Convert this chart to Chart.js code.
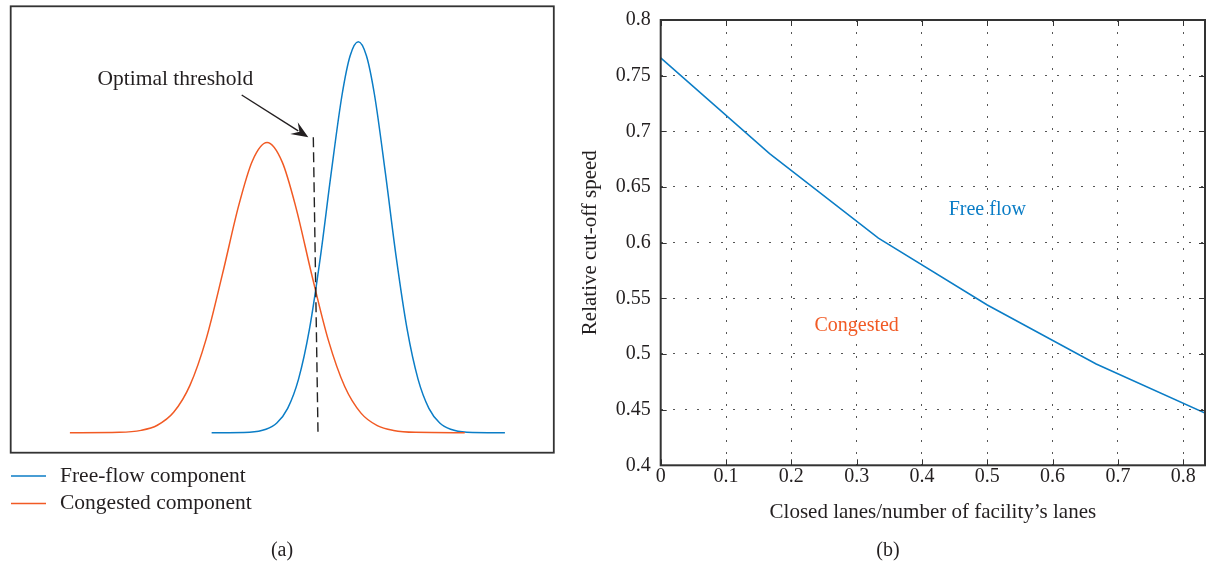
<!DOCTYPE html>
<html><head><meta charset="utf-8">
<script src="https://cdn.jsdelivr.net/npm/chart.js@4.4.0/dist/chart.umd.min.js"></script>
<style>
html,body{margin:0;padding:0;background:#fff;width:1208px;height:565px;overflow:hidden;}
#chartA{position:absolute;left:0;top:0;}
#chartB{position:absolute;left:580px;top:0;}
</style></head><body>
<canvas id="chartA" width="580" height="565"></canvas>
<canvas id="chartB" width="628" height="565"></canvas>
<script>
// ---------- Panel (a): schematic mixture components (arbitrary units) ----------
const freeFlowX = [37.0, 44, 47, 49, 51, 53, 55, 57, 59, 61, 62.5, 64, 65.5, 67, 69, 71, 73, 75, 77, 79, 81, 84, 91.0];
const freeFlowY = [0.0, 0.0014, 0.0087, 0.0248, 0.0623, 0.137, 0.264, 0.447, 0.663, 0.863, 0.964, 1.0, 0.964, 0.863, 0.663, 0.447, 0.264, 0.137, 0.0623, 0.0248, 0.0087, 0.0014, 0.0];
const congestedX = [10.9, 20, 24, 27, 30, 33, 36, 39, 42, 44.5, 47.2, 50, 52.5, 55.5, 58.5, 61.5, 64.5, 67.5, 70.5, 74.5, 83.6];
const congestedY = [0.0, 0.001, 0.0059, 0.019, 0.052, 0.121, 0.240, 0.406, 0.582, 0.695, 0.742, 0.692, 0.577, 0.400, 0.236, 0.118, 0.050, 0.018, 0.0056, 0.0009, 0.0];
const thresholdX = [55.72, 56.58];
const thresholdY = [0.7555, 0.0026];
const arrowX = [42.53, 54.80];
const arrowY = [0.8637, 0.7555];
const annotationA = 'Optimal threshold';
const annotationAX = 15.98;
const annotationAY = 0.9046;
const seriesLabelsA = ['Free-flow component', 'Congested component'];

// ---------- Panel (b): relative cut-off speed ----------
const laneRatio = [0, 0.1667, 0.3333, 0.5, 0.6667, 0.8333];
const cutoffSpeed = [0.766, 0.680, 0.604, 0.544, 0.491, 0.447];
const xTickValues = [0, 0.1, 0.2, 0.3, 0.4, 0.5, 0.6, 0.7, 0.8];
const xTickLabels = ['0', '0.1', '0.2', '0.3', '0.4', '0.5', '0.6', '0.7', '0.8'];
const yTickValues = [0.4, 0.45, 0.5, 0.55, 0.6, 0.65, 0.7, 0.75, 0.8];
const yTickLabels = ['0.4', '0.45', '0.5', '0.55', '0.6', '0.65', '0.7', '0.75', '0.8'];
const xTitle = 'Closed lanes/number of facility\u2019s lanes';
const yTitle = 'Relative cut-off speed';
const regionLabels = ['Free flow', 'Congested'];
const regionX = [0.5, 0.3];
const regionY = [0.63, 0.525];
const panelLabels = ['(a)', '(b)'];

const FONT = "'Liberation Serif', 'Times New Roman', serif";
const TEXT = '#231f20';
const BLUE = '#0b7dc6';
const ORANGE = '#f15a24';
Chart.defaults.font.family = FONT;
Chart.defaults.color = TEXT;

const toPts = (xs, ys) => xs.map((x, i) => ({x: x, y: ys[i]}));

// ---------- Chart A ----------
const panelAPlugin = {
  id: 'panelA',
  afterDraw(chart) {
    const ctx = chart.ctx, a = chart.chartArea;
    const xs = chart.scales.x, ys = chart.scales.y;
    ctx.save();
    // frame
    ctx.strokeStyle = '#333';
    ctx.lineWidth = 1.8;
    ctx.strokeRect(a.left, a.top, a.right - a.left, a.bottom - a.top);
    // arrow
    const x0 = xs.getPixelForValue(arrowX[0]), y0 = ys.getPixelForValue(arrowY[0]);
    const x1 = xs.getPixelForValue(arrowX[1]), y1 = ys.getPixelForValue(arrowY[1]);
    const ang = Math.atan2(y1 - y0, x1 - x0);
    const L = 17, W = 7;
    ctx.strokeStyle = '#231f20';
    ctx.fillStyle = '#231f20';
    ctx.lineWidth = 1.4;
    ctx.beginPath();
    ctx.moveTo(x0, y0);
    ctx.lineTo(x1 - Math.cos(ang) * L * 0.7, y1 - Math.sin(ang) * L * 0.7);
    ctx.stroke();
    ctx.translate(x1, y1);
    ctx.rotate(ang);
    ctx.beginPath();
    ctx.moveTo(0, 0);
    ctx.lineTo(-L, -W);
    ctx.lineTo(-L * 0.62, 0);
    ctx.lineTo(-L, W);
    ctx.closePath();
    ctx.fill();
    ctx.setTransform(1, 0, 0, 1, 0, 0);
    // annotation text
    ctx.font = '21.5px ' + FONT;
    ctx.fillStyle = TEXT;
    ctx.textAlign = 'left';
    ctx.textBaseline = 'middle';
    ctx.fillText(annotationA, xs.getPixelForValue(annotationAX), ys.getPixelForValue(annotationAY));
    // legend
    const legendY = [476, 503.5];
    const colors = chart.data.datasets.slice(0, 2).map(d => d.borderColor);
    seriesLabelsA.forEach((lab, i) => {
      ctx.strokeStyle = colors[i];
      ctx.lineWidth = 1.5;
      ctx.beginPath();
      ctx.moveTo(11, legendY[i]);
      ctx.lineTo(46, legendY[i]);
      ctx.stroke();
      ctx.fillStyle = TEXT;
      ctx.fillText(lab, 60, legendY[i]);
    });
    // panel label
    ctx.font = '20px ' + FONT;
    ctx.textAlign = 'center';
    ctx.fillText(panelLabels[0], 282, 551);
    ctx.restore();
  }
};

new Chart(document.getElementById('chartA'), {
  type: 'line',
  data: {
    datasets: [
      {label: seriesLabelsA[0], data: toPts(freeFlowX, freeFlowY), borderColor: BLUE, borderWidth: 1.5,
       pointRadius: 0, cubicInterpolationMode: 'monotone', fill: false, order: 2},
      {label: seriesLabelsA[1], data: toPts(congestedX, congestedY), borderColor: ORANGE, borderWidth: 1.5,
       pointRadius: 0, cubicInterpolationMode: 'monotone', fill: false, order: 1},
      {label: 'Optimal threshold', data: toPts(thresholdX, thresholdY), borderColor: '#222', borderWidth: 1.4,
       borderDash: [10, 5], pointRadius: 0, fill: false, order: 0}
    ]
  },
  options: {
    responsive: false, animation: false, devicePixelRatio: 1,
    layout: {padding: {left: 10.7, top: 6.3, right: 26.2, bottom: 112.3}},
    plugins: {legend: {display: false}, tooltip: {enabled: false}},
    scales: {
      x: {type: 'linear', min: 0, max: 100, display: false},
      y: {type: 'linear', min: -0.0512, max: 1.0905, display: false}
    }
  },
  plugins: [panelAPlugin]
});

// ---------- Chart B ----------
const panelBPlugin = {
  id: 'panelB',
  afterDraw(chart) {
    const ctx = chart.ctx, a = chart.chartArea;
    const xs = chart.scales.x, ys = chart.scales.y;
    ctx.save();
    ctx.strokeStyle = '#333';
    ctx.lineWidth = 1;
    const T = 6;
    ctx.beginPath();
    xTickValues.forEach(v => {
      const px = Math.round(xs.getPixelForValue(v)) + 0.5;
      ctx.moveTo(px, a.bottom); ctx.lineTo(px, a.bottom - T);
      ctx.moveTo(px, a.top); ctx.lineTo(px, a.top + T);
    });
    yTickValues.forEach(v => {
      const py = Math.round(ys.getPixelForValue(v)) + 0.5;
      ctx.moveTo(a.left, py); ctx.lineTo(a.left + T, py);
      ctx.moveTo(a.right, py); ctx.lineTo(a.right - T, py);
    });
    ctx.stroke();
    ctx.lineWidth = 2;
    ctx.strokeRect(a.left, a.top, a.right - a.left, a.bottom - a.top);
    // region labels
    ctx.font = '20px ' + FONT;
    ctx.textAlign = 'center';
    ctx.textBaseline = 'middle';
    const cols = [BLUE, ORANGE];
    regionLabels.forEach((t, i) => {
      ctx.fillStyle = cols[i];
      ctx.fillText(t, xs.getPixelForValue(regionX[i]), ys.getPixelForValue(regionY[i]));
    });
    ctx.fillStyle = TEXT;
    ctx.fillText(panelLabels[1], 308, 551);
    ctx.restore();
  }
};

new Chart(document.getElementById('chartB'), {
  type: 'line',
  data: {
    datasets: [{label: yTitle, data: toPts(laneRatio, cutoffSpeed), borderColor: BLUE, borderWidth: 1.5,
      pointRadius: 0, tension: 0, fill: false}]
  },
  options: {
    responsive: false, animation: false, devicePixelRatio: 1,
    layout: {padding: {left: 0, top: 17.3, right: 3, bottom: 0}},
    plugins: {legend: {display: false}, tooltip: {enabled: false}},
    scales: {
      x: {
        type: 'linear', min: 0, max: 0.8333,
        afterBuildTicks: s => { s.ticks = xTickValues.map(v => ({value: v})); },
        afterFit: s => { s.height = 99.7; },
        ticks: {callback: (v, i) => xTickLabels[i], padding: 1, autoSkip: false, maxRotation: 0,
                font: {size: 20, lineHeight: 1}, color: TEXT},
        grid: {color: '#555', lineWidth: 1, drawTicks: false},
        border: {display: false, dash: [2, 10]},
        title: {display: true, text: xTitle, color: TEXT, font: {size: 21, lineHeight: 1}, padding: {top: 0, bottom: 42}}
      },
      y: {
        type: 'linear', min: 0.4, max: 0.8,
        afterBuildTicks: s => { s.ticks = yTickValues.map(v => ({value: v})); },
        afterFit: s => { s.width = 80.7; },
        ticks: {callback: (v, i) => yTickLabels[i], padding: 10, autoSkip: false,
                font: {size: 20, lineHeight: 1}, color: TEXT},
        grid: {color: '#555', lineWidth: 1, drawTicks: false},
        border: {display: false, dash: [2, 10]},
        title: {display: true, text: yTitle, color: TEXT, font: {size: 21, lineHeight: 1}, padding: {top: 0, bottom: 0}}
      }
    }
  },
  plugins: [panelBPlugin]
});
</script>
</body></html>
